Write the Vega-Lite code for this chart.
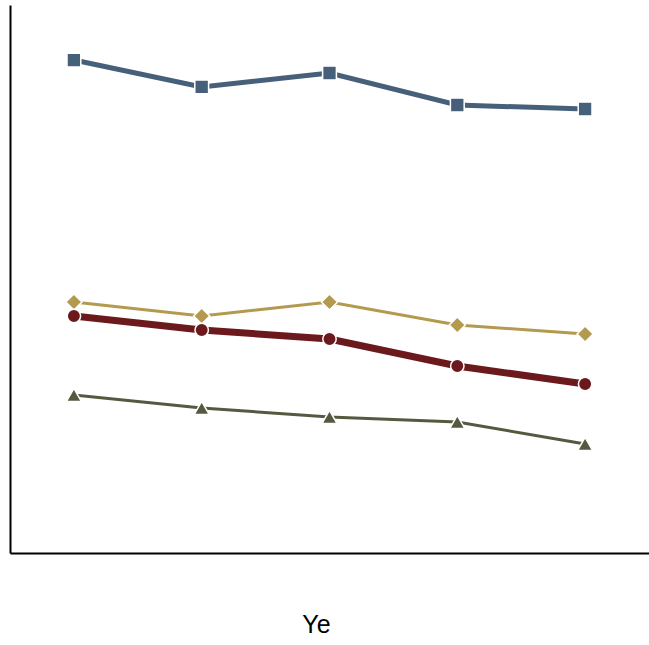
{
  "$schema": "https://vega.github.io/schema/vega-lite/v6.json",
  "autosize": "none",
  "padding": {"left": 10, "top": 5, "right": 0, "bottom": 92},
  "width": 639,
  "height": 548,
  "background": "white",
  "config": {"view": {"stroke": null}, "axis": {"domainColor": "black", "domainWidth": 2, "domainOpacity": 1}},
  "data": {"values": [
    {"Year": "1", "series": "A", "value": 89.96},
    {"Year": "2", "series": "A", "value": 85.04},
    {"Year": "3", "series": "A", "value": 87.59},
    {"Year": "4", "series": "A", "value": 81.75},
    {"Year": "5", "series": "A", "value": 81.02},
    {"Year": "1", "series": "B", "value": 45.8},
    {"Year": "2", "series": "B", "value": 43.25},
    {"Year": "3", "series": "B", "value": 45.8},
    {"Year": "4", "series": "B", "value": 41.61},
    {"Year": "5", "series": "B", "value": 39.96},
    {"Year": "1", "series": "C", "value": 43.25},
    {"Year": "2", "series": "C", "value": 40.69},
    {"Year": "3", "series": "C", "value": 39.05},
    {"Year": "4", "series": "C", "value": 34.12},
    {"Year": "5", "series": "C", "value": 30.84},
    {"Year": "1", "series": "D", "value": 28.83},
    {"Year": "2", "series": "D", "value": 26.46},
    {"Year": "3", "series": "D", "value": 24.82},
    {"Year": "4", "series": "D", "value": 23.91},
    {"Year": "5", "series": "D", "value": 19.89}
  ]},
  "encoding": {
    "x": {"field": "Year", "type": "ordinal", "scale": {"type": "point", "padding": 0.5},
      "axis": {"title": "Ye", "labels": false, "ticks": false,
        "titleFontSize": 25, "titleFont": "Liberation Sans", "titleFontWeight": "normal", "titleColor": "black",
        "titleX": 306, "titleY": 79, "titleBaseline": "alphabetic", "titleAlign": "center"}},
    "y": {"field": "value", "type": "quantitative", "scale": {"domain": [0, 100], "nice": false, "zero": false},
      "axis": {"title": null, "labels": false, "ticks": false, "grid": false}},
    "color": {"field": "series", "type": "nominal", "legend": null,
      "scale": {"domain": ["A", "B", "C", "D"], "range": ["#46607a", "#b39a4f", "#6b191c", "#545a3f"]}}
  },
  "layer": [
    {"mark": {"type": "line"},
     "encoding": {"strokeWidth": {"field": "series", "type": "nominal", "legend": null,
       "scale": {"type": "ordinal", "domain": ["A", "B", "C", "D"], "range": [5, 3, 7, 3]}}}},
    {"mark": {"type": "point", "filled": true, "opacity": 1, "strokeWidth": 1.5},
     "encoding": {"shape": {"field": "series", "type": "nominal", "legend": null,
       "scale": {"domain": ["A", "B", "C", "D"], "range": ["square", "diamond", "circle", "triangle-up"]}},
       "size": {"field": "series", "type": "nominal", "legend": null,
       "scale": {"type": "ordinal", "domain": ["A", "B", "C", "D"], "range": [190, 260, 180, 230]}},
       "stroke": {"value": "white"}}}
  ]
}
